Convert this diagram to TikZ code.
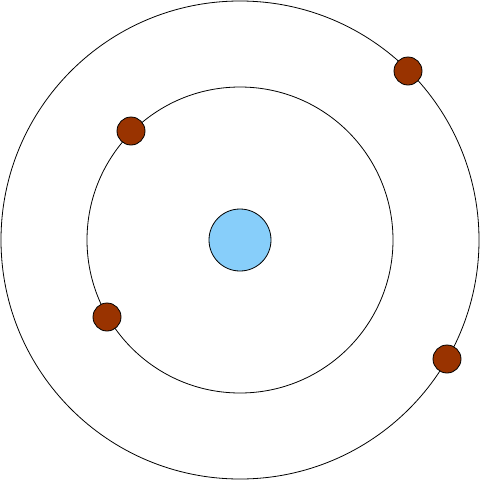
\documentclass[tikz,border=0pt]{standalone}
\definecolor{nucleus}{RGB}{135,206,250}
\definecolor{electron}{RGB}{153,51,0}
\begin{document}
\begin{tikzpicture}[x=1pt,y=-1pt,
  orbit/.style={draw=black,line width=0.8pt},
  nucleusbox/.style={circle,draw=black,fill=nucleus,line width=0.8pt,minimum size=62pt,inner sep=0pt},
  electronbox/.style={circle,draw=black,fill=electron,line width=0.8pt,minimum size=28pt,inner sep=0pt}]
\useasboundingbox (0,0) rectangle (480,480);
\draw[orbit] (240,240) circle (239);
\draw[orbit] (240,240) circle (153);
\node[nucleusbox] (n) at (240,240) {};
\node[electronbox] (e1) at (131,131) {};
\node[electronbox] (e2) at (107,317) {};
\node[electronbox] (e3) at (408,71) {};
\node[electronbox] (e4) at (447,359) {};
\end{tikzpicture}
\end{document}
